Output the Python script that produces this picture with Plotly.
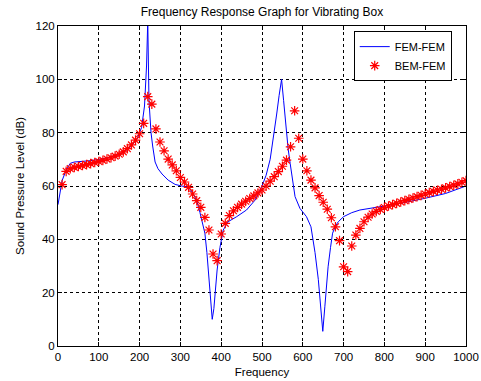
import plotly.graph_objects as go

# FEM-FEM (blue line) frequency (Hz) and SPL (dB)
fem_freq = [0, 5, 10, 20, 30, 40, 60, 80, 100, 120, 140, 160, 180, 195, 205, 212, 217, 220,
            223, 228, 232, 238, 245, 255, 270, 287, 303, 319, 330, 340, 348, 355, 360, 365,
            370, 375, 378, 382, 386, 390, 397, 405, 417, 438, 462, 483, 500, 510, 520, 530,
            536, 542, 548, 553, 559, 564, 569, 575, 581, 593, 609, 620, 630, 638, 645, 649,
            654, 662, 668, 673, 680, 687, 700, 720, 740, 770, 800, 840, 900, 950, 1000]
fem_spl = [53, 58, 62, 66, 68.5, 69, 69.2, 69.5, 70, 70.5, 71.3, 72.5, 75, 78, 82, 90, 105, 122,
           92, 80, 75, 69, 66.5, 64.5, 62.2, 60.6, 60, 59.6, 57.5, 54.5, 50, 46, 42.3, 35,
           25, 15, 10, 14, 21, 28.5, 37, 43.5, 46.6, 48.5, 51, 54.7, 60, 64, 70, 80,
           87, 94, 100, 92, 81, 74, 68.5, 62, 56, 51.6, 48.5, 44.7, 35, 25, 12.3, 5.5,
           14.7, 29.7, 37, 42.3, 45, 46.6, 48.5, 50, 51, 51.7, 52.3, 53.5, 55.4, 57.2, 60]

# BEM-FEM (red stars), every 10 Hz from 10 to 1000
bem_freq = [10, 20, 30, 40, 50, 60, 70, 80, 90, 100, 110, 120, 130, 140, 150, 160, 170, 180, 190, 200,
            210, 220, 230, 240, 250, 260, 270, 280, 290, 300, 310, 320, 330, 340, 350, 360, 370, 380, 390, 400,
            410, 420, 430, 440, 450, 460, 470, 480, 490, 500, 510, 520, 530, 540, 550, 560, 570, 580, 590, 600,
            610, 620, 630, 640, 650, 660, 670, 680, 690, 700, 710, 720, 730, 740, 750, 760, 770, 780, 790, 800,
            810, 820, 830, 840, 850, 860, 870, 880, 890, 900, 910, 920, 930, 940, 950, 960, 970, 980, 990, 1000]
bem_spl = [60.5, 65.5, 66.5, 67, 67.3, 67.7, 68, 68.4, 68.8, 69.2, 69.6, 70.1, 70.6, 71.2, 71.9, 72.8, 74, 75.4, 77.2, 79.6,
           83.5, 93.5, 90.7, 81.4, 76.5, 73.2, 70.1, 67.9, 65.7, 63.2, 61.5, 59.5, 57, 54.5, 52, 48.2, 43.5, 34.5, 32, 42,
           46, 48.9, 50.7, 52, 53.2, 54.3, 55.3, 56.3, 57.4, 58.5, 60, 61.8, 63.5, 65.4, 67.4, 69.7, 74.7, 88.2, 77.9, 70.1,
           65.7, 62.2, 59.3, 56.4, 53.9, 51.3, 48.1, 44.7, 39.5, 29.7, 27.9, 37.5, 41.6, 44.1, 46.6, 48.3, 49.5, 50.5, 51.2, 51.9,
           52.5, 53, 53.5, 54, 54.5, 55, 55.5, 56, 56.5, 57, 57.5, 58, 58.4, 58.8, 59.3, 59.8, 60.3, 60.8, 61.4, 62]

x_ticks = [0, 100, 200, 300, 400, 500, 600, 700, 800, 900, 1000]
y_ticks = [0, 20, 40, 60, 80, 100, 120]

FONT = "Liberation Sans, Arial, sans-serif"

fig = go.Figure()
fig.add_trace(go.Scatter(x=fem_freq, y=fem_spl, mode="lines", name="FEM-FEM",
                         line=dict(color="#0000ff", width=1)))
fig.add_trace(go.Scatter(x=bem_freq, y=bem_spl, mode="markers", name="BEM-FEM",
                         marker=dict(symbol="asterisk", size=8, color="#ff0000",
                                     line=dict(color="#ff0000", width=1.2))))

axis_common = dict(showline=True, linecolor="black", linewidth=1, mirror="ticks",
                   ticks="inside", ticklen=4, tickcolor="black", automargin=False,
                   showgrid=True, gridcolor="black", gridwidth=1, griddash="dot",
                   zeroline=False, tickfont=dict(family=FONT, size=11.5, color="black"))

fig.update_xaxes(range=[0, 1000], tickvals=x_ticks, ticktext=[str(v) for v in x_ticks],
                 title=dict(text="Frequency", font=dict(family=FONT, size=11.5, color="black"), standoff=6),
                 **axis_common)
fig.update_yaxes(range=[0, 120], tickvals=y_ticks, ticktext=[str(v) for v in y_ticks],
                 title=dict(text="Sound Pressure Level (dB)", font=dict(family=FONT, size=11.5, color="black"), standoff=8),
                 **axis_common)

fig.update_layout(
    width=481, height=381,
    margin=dict(l=58, r=15, t=26, b=35, autoexpand=False),
    paper_bgcolor="white", plot_bgcolor="white",
    font=dict(family=FONT, size=11.5, color="black"),
    title=dict(text="Frequency Response Graph for Vibrating Box", x=(58 + 204) / 481, xanchor="center",
               y=1 - 12 / 381, yanchor="middle", font=dict(family=FONT, size=12, color="black")),
    legend=dict(x=0.965, y=0.984, xanchor="right", yanchor="top",
                bgcolor="white", bordercolor="black", borderwidth=1,
                font=dict(family=FONT, size=11, color="black"), itemwidth=30,
                tracegroupgap=0),
    showlegend=True,
)

fig.write_html("out.html")
